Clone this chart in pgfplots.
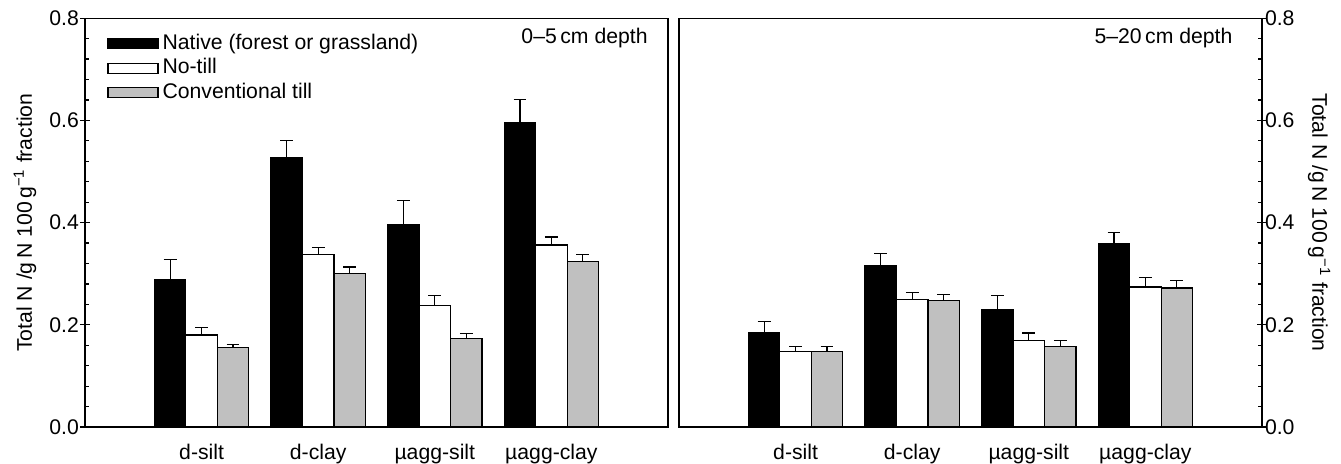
\documentclass[border=0pt]{standalone}
\usepackage{fontspec}
\setmainfont{Liberation Sans}
\setsansfont{Liberation Sans}
\usepackage{pgfplots}
\usepackage{pgfplotstable}
\pgfplotsset{compat=1.18}

\definecolor{ctgray}{RGB}{192,192,192}

% Total N per fraction: value and upper standard error
% x: 0 d-silt, 1 d-clay, 2 uagg-silt, 3 uagg-clay
\pgfplotstableread{
x  nat   nate   nt    nte   ct    cte
0  0.288 0.040  0.180 0.014 0.155 0.007
1  0.527 0.033  0.337 0.015 0.300 0.013
2  0.396 0.048  0.237 0.021 0.173 0.010
3  0.596 0.045  0.356 0.016 0.324 0.013
}\topsoil

\pgfplotstableread{
x  nat   nate   nt    nte   ct    cte
0  0.185 0.021  0.147 0.010 0.148 0.009
1  0.315 0.024  0.250 0.013 0.247 0.012
2  0.230 0.027  0.169 0.015 0.158 0.011
3  0.359 0.021  0.274 0.018 0.272 0.015
}\subsoil

\pgfplotsset{
  barleg/.style={legend image code/.code={%
      \draw[##1,line width=0.6pt] (0pt,-2.5pt) rectangle (25pt,2.5pt);}},
  panel/.style={
    scale only axis, width=291.5pt, height=204.4pt,
    xmin=-1, xmax=4, ymin=0, ymax=0.8,
    enlargelimits=false,
    ybar=0pt, bar width=0.27,
    xtick={0,1,2,3},
    xticklabels={d-silt,d-clay,µagg-silt,µagg-clay},
    xticklabel style={yshift=-5pt},
    every major x tick/.style={draw=none},
    ytick={0,0.2,0.4,0.6,0.8},
    minor y tick num=4,
    tick align=inside,
    major tick length=5pt, minor tick length=2pt,
    tick style={line width=0.6pt, black},
    axis line style={line width=0.6pt},
    yticklabel style={/pgf/number format/fixed, /pgf/number format/fixed zerofill,
      /pgf/number format/precision=1, /pgf/number format/assume math mode=true},
    label style={font=\fontsize{11}{13}\selectfont},
    error bars/y dir=plus,
    error bars/y explicit,
    error bars/error bar style={line width=0.6pt, black},
    error bars/error mark options={rotate=90, mark size=3.2pt, line width=0.6pt, black},
  },
}

\begin{document}
\begin{tikzpicture}[font=\fontsize{10.6}{12.7}\selectfont]
\useasboundingbox (-42.5pt,-18.5pt) rectangle (628pt,213.5pt);

% 0-5 cm
\begin{axis}[panel, at={(0pt,0pt)}, anchor=south west,
  ytick pos=left,
  every major y tick/.append style={xshift=-2.5pt},
  yticklabel style={xshift=0.5pt},
  ylabel={Total N /g\,N 100\,g\textsuperscript{−1} fraction},
  every axis y label/.style={at={(axis description cs:-0.103,0.5)}, rotate=90, anchor=center},
  legend style={at={(0.0377,0.9645)}, anchor=north west, draw=none, fill=none,
    inner sep=0pt, row sep=1.75pt, font=\fontsize{10.6}{12.7}\selectfont,
    nodes={inner sep=0pt, text height=8pt, text depth=2.5pt}},
  legend cell align=left,
]
\addplot[fill=black, draw=black, line width=0.6pt, barleg]
  table[x=x, y=nat, y error=nate] {\topsoil};
\addplot[fill=white, draw=black, line width=0.6pt, barleg]
  table[x=x, y=nt, y error=nte] {\topsoil};
\addplot[fill=ctgray, draw=black, line width=0.6pt, barleg]
  table[x=x, y=ct, y error=cte] {\topsoil};
\legend{\kern2pt Native (forest or grassland), \kern2pt No-till, \kern2pt Conventional till}
\node[anchor=east, inner sep=0pt] at (rel axis cs:0.9657,0.9516) {0–5\,cm depth};
\end{axis}

% 5-20 cm
\begin{axis}[panel, at={(297pt,0pt)}, anchor=south west,
  ytick pos=right, yticklabel pos=right,
  every major y tick/.append style={xshift=2.5pt},
  yticklabel style={xshift=-2pt},
  ylabel={Total N /g\,N 100\,g\textsuperscript{−1} fraction},
  every axis y label/.style={at={(axis description cs:1.098,0.5)}, rotate=-90, anchor=center},
]
\addplot[fill=black, draw=black, line width=0.6pt]
  table[x=x, y=nat, y error=nate] {\subsoil};
\addplot[fill=white, draw=black, line width=0.6pt]
  table[x=x, y=nt, y error=nte] {\subsoil};
\addplot[fill=ctgray, draw=black, line width=0.6pt]
  table[x=x, y=ct, y error=cte] {\subsoil};
\node[anchor=east, inner sep=0pt] at (rel axis cs:0.950,0.9516) {5–20\,cm depth};
\end{axis}
\end{tikzpicture}
\end{document}
